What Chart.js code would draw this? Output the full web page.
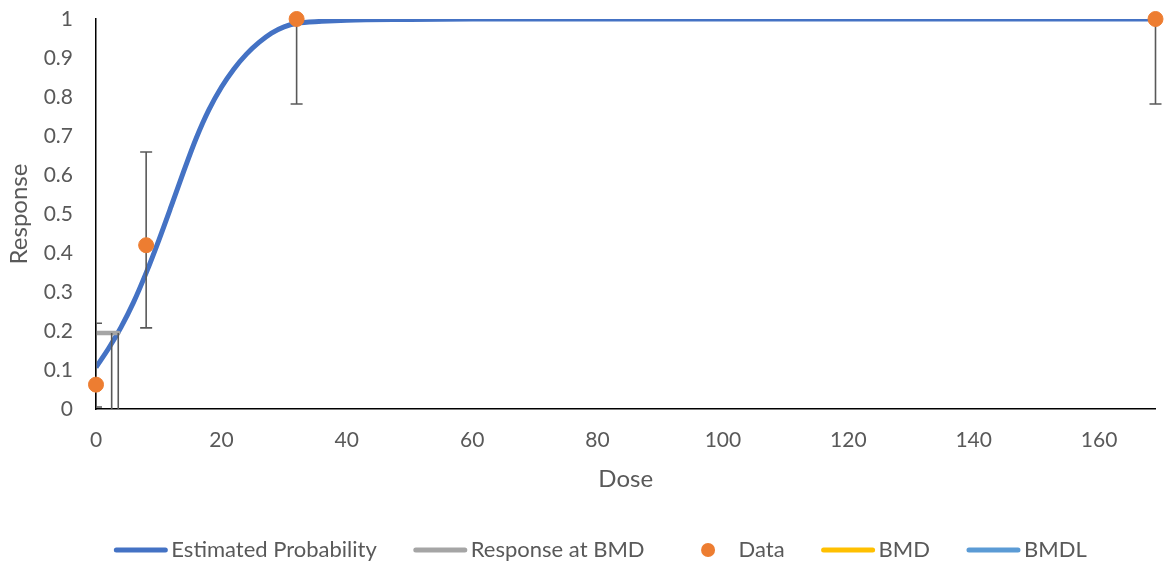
<!DOCTYPE html>
<html>
<head>
<meta charset="utf-8">
<script src="https://cdn.jsdelivr.net/npm/chart.js@4.4.1/dist/chart.umd.min.js"></script>
<style>
  html, body { margin: 0; padding: 0; background: #ffffff; }
  canvas { display: block; }
</style>
</head>
<body>
<canvas id="chart" width="1164" height="562"></canvas>
<script>
// Observed dose groups with response fraction and confidence limits
const doses = [0, 8, 32, 169];
const observed = [0.0625, 0.42, 1, 1];
const ciLower = [0.005, 0.208, 0.782, 0.782];
const ciUpper = [0.22, 0.659, 1, 1];

// Fitted dose-response curve (estimated probability)
const curveDoses = [0, 2, 4, 6, 8, 10, 12, 14, 16, 18, 20, 22, 24, 26, 28, 30, 32, 36, 40, 50, 60, 169];
const curveProb  = [0.107, 0.155, 0.21, 0.274, 0.349, 0.432, 0.52, 0.61, 0.695, 0.767, 0.825, 0.872,
                    0.91, 0.94, 0.964, 0.98, 0.989, 0.994, 0.997, 0.999, 1, 1];

// Benchmark dose results
const bmd = 3.55;
const bmdl = 2.5;
const bmdResponse = 0.195;

// Axis ticks
const xTickValues = [0, 20, 40, 60, 80, 100, 120, 140, 160];
const xTickLabels = ['0', '20', '40', '60', '80', '100', '120', '140', '160'];
const yTickValues = [0, 0.1, 0.2, 0.3, 0.4, 0.5, 0.6, 0.7, 0.8, 0.9, 1];
const yTickLabels = ['0', '0.1', '0.2', '0.3', '0.4', '0.5', '0.6', '0.7', '0.8', '0.9', '1'];

// Legend
const legendLabels = ['Estimated Probability', 'Response at BMD', 'Data', 'BMD', 'BMDL'];
const legendColors = ['#4472C4', '#A5A5A5', '#ED7D31', '#FFC000', '#5B9BD5'];
const legendKinds  = ['line', 'line', 'dot', 'line', 'line'];

const FONT = "Lato, 'Open Sans', 'Liberation Sans', sans-serif";
const TEXT = '#595959';
const DATA_INDEX = 2;

const errorBarPlugin = {
  id: 'errorBars',
  beforeDatasetDraw(chart, args) {
    if (args.index !== DATA_INDEX) return;
    const { ctx, scales: { x, y }, chartArea } = chart;
    ctx.save();
    ctx.beginPath();
    ctx.rect(chartArea.left, 0, chart.width - chartArea.left, chart.height);
    ctx.clip();
    ctx.strokeStyle = TEXT;
    ctx.lineWidth = 1.6;
    const cap = 6;
    doses.forEach((d, i) => {
      const px = x.getPixelForValue(d);
      const lo = y.getPixelForValue(ciLower[i]);
      const hi = y.getPixelForValue(ciUpper[i]);
      ctx.beginPath();
      ctx.moveTo(px, lo); ctx.lineTo(px, hi);
      ctx.moveTo(px - cap, lo); ctx.lineTo(px + cap, lo);
      ctx.moveTo(px - cap, hi); ctx.lineTo(px + cap, hi);
      ctx.stroke();
    });
    ctx.restore();
  }
};

const legendPlugin = {
  id: 'bottomLegend',
  afterDraw(chart) {
    const ctx = chart.ctx;
    ctx.save();
    ctx.font = `22px ${FONT}`;
    const sym = 55, gap = 3, spacing = 36, cy = 550, center = 600;
    const widths = legendLabels.map(t => ctx.measureText(t).width);
    const total = widths.reduce((a, w) => a + sym + gap + w, 0) + spacing * (legendLabels.length - 1);
    let x = center - total / 2;
    ctx.textBaseline = 'middle';
    ctx.textAlign = 'left';
    legendLabels.forEach((label, i) => {
      if (legendKinds[i] === 'line') {
        ctx.strokeStyle = legendColors[i];
        ctx.lineWidth = 5;
        ctx.lineCap = 'round';
        ctx.beginPath();
        ctx.moveTo(x + 3, cy); ctx.lineTo(x + sym - 3, cy);
        ctx.stroke();
      } else {
        ctx.fillStyle = legendColors[i];
        ctx.beginPath();
        ctx.arc(x + sym / 2, cy, 7, 0, Math.PI * 2);
        ctx.fill();
      }
      ctx.fillStyle = TEXT;
      ctx.fillText(label, x + sym + gap, cy);
      x += sym + gap + widths[i] + spacing;
    });
    ctx.restore();
  }
};

new Chart(document.getElementById('chart'), {
  type: 'scatter',
  data: {
    datasets: [
      {
        label: legendLabels[0],
        type: 'line',
        data: curveDoses.map((d, i) => ({ x: d, y: curveProb[i] })),
        borderColor: legendColors[0],
        borderWidth: 5,
        pointRadius: 0,
        cubicInterpolationMode: 'monotone',
        fill: false,
        order: 5
      },
      {
        label: legendLabels[1],
        type: 'line',
        data: [{ x: 0, y: bmdResponse }, { x: bmd, y: bmdResponse }],
        borderColor: legendColors[1],
        borderWidth: 4.5,
        borderCapStyle: 'round',
        pointRadius: 0,
        order: 4
      },
      {
        label: legendLabels[2],
        data: doses.map((d, i) => ({ x: d, y: observed[i] })),
        backgroundColor: legendColors[2],
        borderColor: legendColors[2],
        pointRadius: 7.5,
        pointHoverRadius: 7.5,
        showLine: false,
        clip: false,
        order: 3
      },
      {
        label: legendLabels[3],
        type: 'line',
        data: [{ x: bmd, y: 0 }, { x: bmd, y: bmdResponse }],
        borderColor: TEXT,
        borderWidth: 1.6,
        pointRadius: 0,
        order: 2
      },
      {
        label: legendLabels[4],
        type: 'line',
        data: [{ x: bmdl, y: 0 }, { x: bmdl, y: bmdResponse }],
        borderColor: TEXT,
        borderWidth: 1.6,
        pointRadius: 0,
        order: 1
      }
    ]
  },
  options: {
    responsive: false,
    animation: false,
    devicePixelRatio: 1,
    layout: { padding: { left: 0, right: 5, top: 19, bottom: 62 } },
    plugins: {
      legend: { display: false },
      tooltip: { enabled: false }
    },
    scales: {
      x: {
        type: 'linear',
        min: 0,
        max: 169,
        afterBuildTicks: s => { s.ticks = xTickValues.map(v => ({ value: v })); },
        afterFit: s => { s.height = 91; s.paddingLeft = 0; s.paddingRight = 0; },
        grid: { display: false, drawTicks: false },
        border: { display: true, color: '#000000', width: 1.5 },
        ticks: {
          padding: 19,
          color: TEXT,
          font: { family: FONT, size: 21 },
          maxRotation: 0,
          callback: v => xTickLabels[xTickValues.indexOf(v)] ?? ''
        },
        title: {
          display: true,
          text: 'Dose',
          color: TEXT,
          font: { family: FONT, size: 24 },
          padding: { top: 0, bottom: 6 }
        }
      },
      y: {
        type: 'linear',
        min: 0,
        max: 1,
        afterBuildTicks: s => { s.ticks = yTickValues.map(v => ({ value: v })); },
        afterFit: s => { s.width = 96; s.paddingTop = 0; s.paddingBottom = 0; },
        grid: { display: false, drawTicks: false },
        border: { display: true, color: '#000000', width: 1.5 },
        ticks: {
          padding: 23,
          color: TEXT,
          font: { family: FONT, size: 21 },
          callback: v => yTickLabels[yTickValues.indexOf(v)] ?? ''
        },
        title: {
          display: true,
          text: 'Response',
          color: TEXT,
          font: { family: FONT, size: 24 },
          padding: { top: 5, bottom: 0 }
        }
      }
    }
  },
  plugins: [errorBarPlugin, legendPlugin]
});
</script>
</body>
</html>
